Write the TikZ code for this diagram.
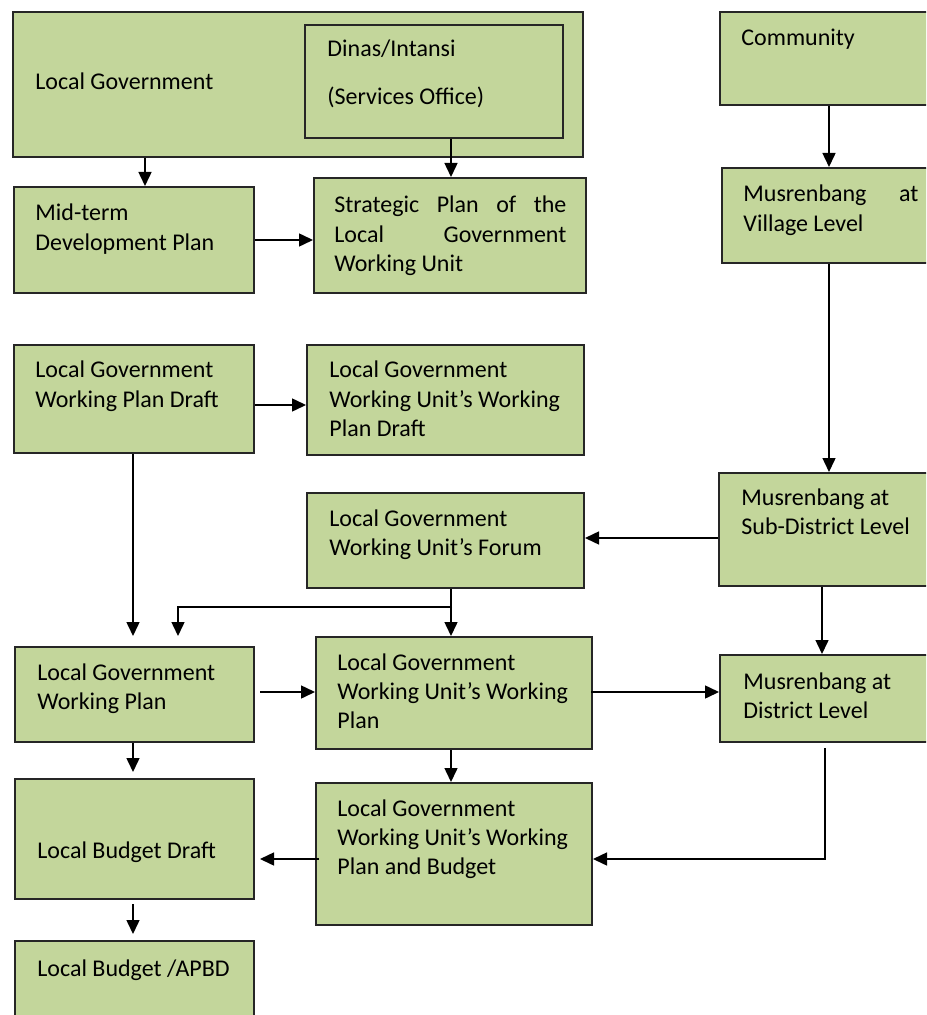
\documentclass[tikz,border=0pt]{standalone}
\usepackage{fontspec}
\setmainfont{Carlito}
\usetikzlibrary{arrows.meta,fit}
\definecolor{boxgreen}{RGB}{195,214,155}
% stacked lines whose reference point is the first baseline
\newcommand{\stk}[1]{\vtop{\halign{##\hfil\cr#1\crcr}}}
\begin{document}
\begin{tikzpicture}[x=0.5pt,y=-0.5pt,
  box/.style={draw=black!85, line width=1pt, fill=boxgreen, inner sep=0pt, rectangle},
  txt/.style={anchor=base west, inner sep=0pt, font=\fontsize{12}{14.6}\selectfont},
  arr/.style={-{Triangle[length=7pt,width=6.5pt]}, line width=0.75pt}]
\clip (0,0) rectangle (926,1015);
\fill[white] (0,0) rectangle (926,1015);

% column and row guides for the connectors
\coordinate (cA) at (145,0);
\coordinate (cB) at (451,0);
\coordinate (cC) at (829,0);
\coordinate (cD) at (133,0);
\coordinate (cE) at (178,0);
\coordinate (cF) at (822,0);
\coordinate (cG) at (825,0);
\coordinate (r240) at (0,240);
\coordinate (r405) at (0,405);
\coordinate (r538) at (0,538);
\coordinate (r607) at (0,607);
\coordinate (r692) at (0,692);
\coordinate (r859) at (0,859);

% boxes
\node[box, fit={(13,12)(583,157)}] (lg) {};
\node[box, fit={(305,25)(563,138)}] (dinas) {};
\node[box, fit={(14,187)(254,293)}] (mid) {};
\node[box, fit={(314,178)(586,293)}] (strat) {};
\node[box, fit={(720,12)(940,105)}] (comm) {};
\node[box, fit={(722,168)(940,263)}] (vill) {};
\node[box, fit={(14,345)(254,453)}] (lgwpd) {};
\node[box, fit={(307,345)(584,455)}] (wuwpd) {};
\node[box, fit={(719,473)(940,586)}] (sub) {};
\node[box, fit={(307,493)(584,588)}] (forum) {};
\node[box, fit={(15,647)(254,742)}] (lgwp) {};
\node[box, fit={(316,637)(592,749)}] (wuwp) {};
\node[box, fit={(720,655)(940,742)}] (dist) {};
\node[box, fit={(15,779)(254,899)}] (draft) {};
\node[box, fit={(316,783)(592,925)}] (wuwpb) {};
\node[box, fit={(15,941)(254,1030)}] (apbd) {};

% texts
\node[txt] (tlg) at (35,90) {Local Government};
\node[txt] (tdinas) at (327,57) {\stk{Dinas/Intansi\cr\noalign{\vskip9pt}(Services Office)}};
\node[txt] (tmid) at (35,221) {\stk{Mid-term\cr Development Plan}};
\node[txt] (tstrat) at (334,213) {\stk{\makebox[116pt][s]{Strategic Plan of the}\cr\makebox[116pt][s]{Local Government}\cr Working Unit}};
\node[txt] (tcomm) at (741,46) {Community};
\node[txt] (tvill) at (743,202) {\stk{\makebox[87.5pt][s]{Musrenbang at}\cr Village Level}};
\node[txt] (tlgwpd) at (35,378) {\stk{Local Government\cr Working Plan Draft}};
\node[txt] (twuwpd) at (329,378) {\stk{Local Government\cr Working Unit’s Working\cr Plan Draft}};
\node[txt] (tsub) at (741,505) {\stk{Musrenbang at\cr Sub-District Level}};
\node[txt] (tforum) at (329,526) {\stk{Local Government\cr Working Unit’s Forum}};
\node[txt] (tlgwp) at (37,680) {\stk{Local Government\cr Working Plan}};
\node[txt] (twuwp) at (337,670) {\stk{Local Government\cr Working Unit’s Working\cr Plan}};
\node[txt] (tdist) at (743,689) {\stk{Musrenbang at\cr District Level}};
\node[txt] (tdraft) at (37,858) {Local Budget Draft};
\node[txt] (twuwpb) at (337,816) {\stk{Local Government\cr Working Unit’s Working\cr Plan and Budget}};
\node[txt] (tapbd) at (37,976) {Local Budget /APBD};

% connectors
\draw[arr] (lg.south -| cA) -- (mid.north -| cA);
\draw[arr] (dinas.south -| cB) -- (strat.north -| cB);
\draw[arr] (mid.east |- r240) -- (strat.west |- r240);
\draw[arr] (comm.south -| cC) -- (vill.north -| cC);
\draw[arr] (vill.south -| cC) -- (sub.north -| cC);
\draw[arr] (lgwpd.east |- r405) -- (wuwpd.west |- r405);
\draw[arr, shorten >=5pt] (lgwpd.south -| cD) -- (lgwp.north -| cD);
\draw[arr] (sub.west |- r538) -- (forum.east |- r538);
\draw[arr] (forum.south -| cB) -- (wuwp.north -| cB);
\draw[arr, shorten >=5pt] (r607 -| cB) ++(1,0) -| (lgwp.north -| cE);
\draw[arr] (sub.south -| cF) -- (dist.north -| cF);
\draw[arr, shorten <=2.5pt] (lgwp.east |- r692) -- (wuwp.west |- r692);
\draw[arr, shorten <=-1pt] (wuwp.east |- r692) -- (dist.west |- r692);
\draw[arr, shorten >=3pt] (lgwp.south -| cD) -- (draft.north -| cD);
\draw[arr] (wuwp.south -| cB) -- (wuwpb.north -| cB);
\draw[arr, shorten <=2.5pt] (dist.south -| cG) |- (wuwpb.east |- r859);
\draw[arr, shorten <=-2pt, shorten >=2.5pt] (wuwpb.west |- r859) -- (draft.east |- r859);
\draw[arr, shorten <=2pt, shorten >=3pt] (draft.south -| cD) -- (apbd.north -| cD);
\end{tikzpicture}
\end{document}
